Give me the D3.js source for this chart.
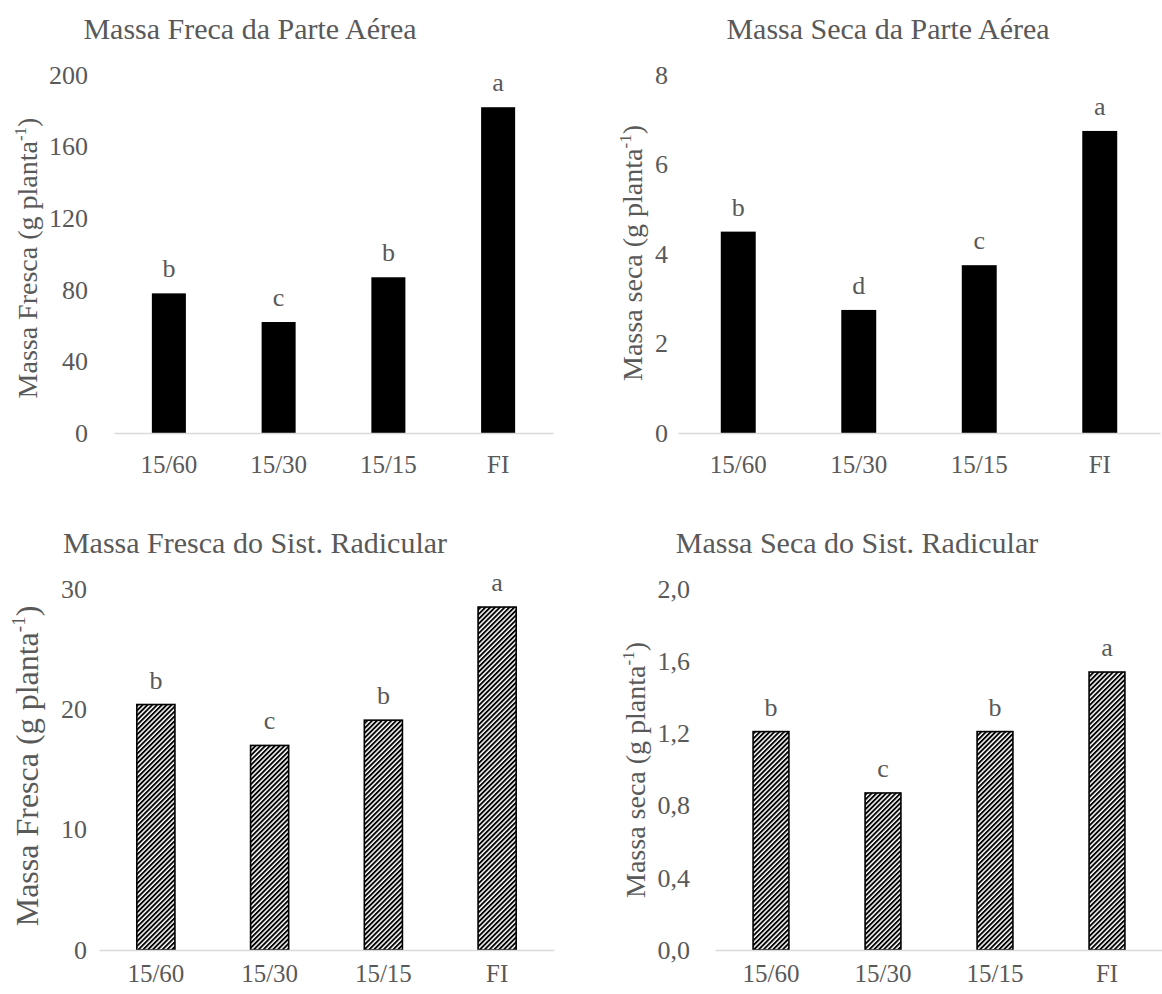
<!DOCTYPE html>
<html>
<head>
<meta charset="utf-8">
<script src="https://cdn.jsdelivr.net/npm/d3@7"></script>
<style>
  html, body { margin: 0; padding: 0; background: #fff; }
  svg { display: block; }
</style>
</head>
<body>
<svg id="chart" width="1162" height="994"></svg>
<script>
// Treatments (irrigation intervals) shared by all four panels
const categories = ["15/60", "15/30", "15/15", "FI"];

// Shoot fresh mass (g plant-1)
const shootFresh = [78, 62, 87, 182];
const shootFreshLetters = ["b", "c", "b", "a"];

// Shoot dry mass (g plant-1)
const shootDry = [4.5, 2.75, 3.75, 6.75];
const shootDryLetters = ["b", "d", "c", "a"];

// Root fresh mass (g plant-1)
const rootFresh = [20.4, 17.0, 19.1, 28.5];
const rootFreshLetters = ["b", "c", "b", "a"];

// Root dry mass (g plant-1)
const rootDry = [1.21, 0.87, 1.21, 1.54];
const rootDryLetters = ["b", "c", "b", "a"];

// Y-axis tick values
const ticksShootFresh = [0, 40, 80, 120, 160, 200];
const ticksShootDry = [0, 2, 4, 6, 8];
const ticksRootFresh = [0, 10, 20, 30];
const ticksRootDry = [0, 0.4, 0.8, 1.2, 1.6, 2.0];

const FONT = "'Liberation Serif', Tinos, 'Times New Roman', Times, 'DejaVu Serif', serif";
const GREY = "#595959";

const svg = d3.select("#chart");

// diagonal hatch used for the root panels
const defs = svg.append("defs");
const pat = defs.append("pattern")
  .attr("id", "hatch")
  .attr("patternUnits", "userSpaceOnUse")
  .attr("width", 3.4).attr("height", 3.4)
  .attr("patternTransform", "rotate(45)");
pat.append("rect").attr("width", 3.4).attr("height", 3.4).attr("fill", "#fff");
pat.append("rect").attr("width", 1.9).attr("height", 3.4).attr("fill", "#000");

const commaFmt = v => d3.format(".1f")(v).replace(".", ",");

const panels = [
  { title: "Massa Freca da Parte Aérea", ytitle: "Massa Fresca", values: shootFresh, letters: shootFreshLetters,
    ticks: ticksShootFresh, fmt: d3.format("d"), hatch: false,
    x0: 114, x1: 553, yBase: 433, yTop: 75, tickX: 88, ytX: 27, ytY: 258, ytSize: 28,
    titleX: 250, titleY: 39, barPad: 0.69, xPad: 22 },
  { title: "Massa Seca da Parte Aérea", ytitle: "Massa seca", values: shootDry, letters: shootDryLetters,
    ticks: ticksShootDry, fmt: d3.format("d"), hatch: false,
    x0: 678, x1: 1160, yBase: 433, yTop: 75, tickX: 668, ytX: 632, ytY: 253, ytSize: 28,
    titleX: 888, titleY: 39, barPad: 0.71, xPad: 22 },
  { title: "Massa Fresca do Sist. Radicular", ytitle: "Massa Fresca", values: rootFresh, letters: rootFreshLetters,
    ticks: ticksRootFresh, fmt: d3.format("d"), hatch: true,
    x0: 99, x1: 554, yBase: 950, yTop: 589, tickX: 87, ytX: 27, ytY: 766, ytSize: 32,
    titleX: 255, titleY: 553, barPad: 0.665, xPad: 14 },
  { title: "Massa Seca do Sist. Radicular", ytitle: "Massa seca", values: rootDry, letters: rootDryLetters,
    ticks: ticksRootDry, fmt: commaFmt, hatch: true,
    x0: 715, x1: 1163, yBase: 950, yTop: 589, tickX: 690, ytX: 635, ytY: 770, ytSize: 28,
    titleX: 857, titleY: 553, barPad: 0.68, xPad: 14 }
];

panels.forEach(p => {
  const g = svg.append("g").attr("font-family", FONT);
  const x = d3.scaleBand().domain(categories).range([p.x0, p.x1]).paddingInner(p.barPad).paddingOuter(p.barPad / 2);
  const yMax = p.ticks[p.ticks.length - 1];
  const y = d3.scaleLinear().domain([0, yMax]).range([p.yBase, p.yTop]);

  // chart title
  g.append("text")
    .attr("x", p.titleX).attr("y", p.titleY)
    .attr("text-anchor", "middle")
    .attr("fill", GREY)
    .style("font-family", FONT)
    .style("font-size", "30px")
    .text(p.title);

  // y-axis title with superscript exponent
  const supShift = Math.round(p.ytSize * 0.4);
  const yt = g.append("text")
    .attr("transform", `translate(${p.ytX},${p.ytY}) rotate(-90)`)
    .attr("text-anchor", "middle")
    .attr("dy", "0.35em")
    .attr("fill", GREY)
    .style("font-family", FONT)
    .style("font-size", p.ytSize + "px");
  yt.append("tspan").text(p.ytitle + " (g planta");
  yt.append("tspan").attr("dy", -supShift).style("font-size", Math.round(p.ytSize * 0.6) + "px").text("-1");
  yt.append("tspan").attr("dy", supShift).text(")");

  // y-axis tick labels (no axis line)
  const yAxis = d3.axisLeft(y).tickValues(p.ticks).tickFormat(p.fmt).tickSize(0).tickPadding(0);
  const ya = g.append("g").attr("transform", `translate(${p.tickX},0)`).call(yAxis);
  ya.attr("font-family", FONT);
  ya.select(".domain").remove();
  ya.selectAll("text")
    .style("font-family", FONT)
    .style("font-size", "26px").attr("fill", GREY);

  // bars
  g.selectAll("rect.bar").data(p.values).enter().append("rect")
    .attr("class", "bar")
    .attr("x", (d, i) => x(categories[i]))
    .attr("width", x.bandwidth())
    .attr("y", d => y(d))
    .attr("height", d => y(0) - y(d))
    .attr("fill", p.hatch ? "url(#hatch)" : "#000")
    .attr("stroke", p.hatch ? "#000" : "none")
    .attr("stroke-width", 1.6);

  // significance letters
  g.selectAll("text.letter").data(p.values).enter().append("text")
    .attr("class", "letter")
    .attr("x", (d, i) => x(categories[i]) + x.bandwidth() / 2)
    .attr("y", d => y(d) - 16)
    .attr("text-anchor", "middle")
    .attr("fill", GREY)
    .style("font-family", FONT)
    .style("font-size", "26px")
    .text((d, i) => p.letters[i]);

  // category axis along the baseline
  const xAxis = d3.axisBottom(x).tickSize(0).tickPadding(p.xPad);
  const xa = g.append("g").attr("transform", `translate(0,${p.yBase})`).call(xAxis);
  xa.attr("font-family", FONT);
  xa.select(".domain").attr("stroke", "#d9d9d9").attr("stroke-width", 1.3);
  xa.selectAll("text")
    .style("font-family", FONT)
    .style("font-size", "25px").attr("fill", GREY);
});
</script>
</body>
</html>
